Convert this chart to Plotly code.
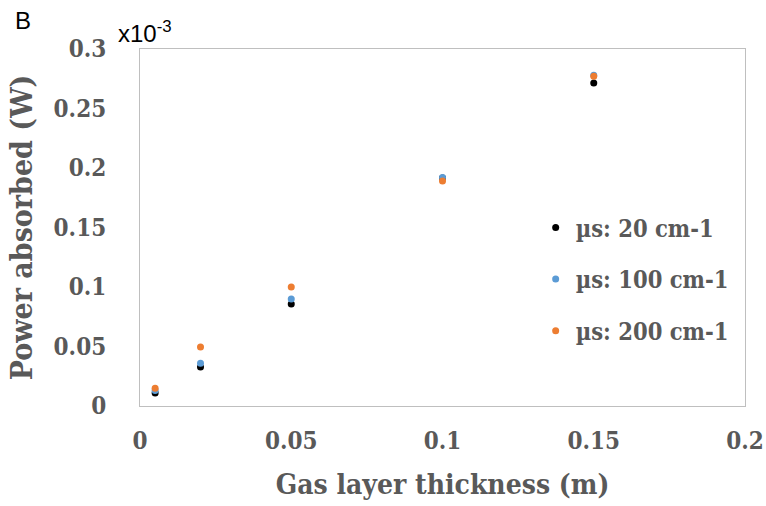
import plotly.graph_objects as go

# Gas layer thickness (m)
thickness = [0.005, 0.02, 0.05, 0.1, 0.15]

# Power absorbed (x10^-3 W) for each scattering coefficient
power_mus20 = [0.0109, 0.0328, 0.0857, 0.1916, 0.2714]
power_mus100 = [0.0130, 0.0360, 0.0900, 0.1920, 0.2780]
power_mus200 = [0.0150, 0.0496, 0.1000, 0.1890, 0.2770]

series_names = ["µs: 20 cm-1", "µs: 100 cm-1", "µs: 200 cm-1"]
series_colors = ["#000000", "#5B9BD5", "#ED7D31"]
series_values = [power_mus20, power_mus100, power_mus200]

y_ticks = [0, 0.05, 0.1, 0.15, 0.2, 0.25, 0.3]
x_ticks = [0, 0.05, 0.1, 0.15, 0.2]

SERIF = "DejaVu Serif Condensed"
GREY = "#595959"
TICK_FONT = dict(family=SERIF, size=24, color=GREY)

fig = go.Figure()
for i, (name, color, vals) in enumerate(zip(series_names, series_colors, series_values)):
    fig.add_trace(go.Scatter(
        x=thickness, y=vals, mode="markers", name=f"<b>{name}</b>",
        legendgroup=f"g{i}",
        marker=dict(color=color, size=7, line=dict(width=0)),
    ))

fig.update_layout(
    width=766, height=506,
    margin=dict(l=140, r=21, t=49, b=100),
    paper_bgcolor="white", plot_bgcolor="white",
    showlegend=True,
    legend=dict(
        x=0.654, y=0.355, xanchor="left", yanchor="middle",
        font=dict(family=SERIF, size=23.5, color=GREY),
        bgcolor="rgba(0,0,0,0)", tracegroupgap=18, itemwidth=30,
        traceorder="grouped",
    ),
    xaxis=dict(
        range=[0, 0.2], tickvals=x_ticks, ticktext=[f"<b>{v:g}</b>" for v in x_ticks],
        showgrid=False, zeroline=False, showline=True, mirror=True,
        linecolor="#BFBFBF", linewidth=1, ticks="", ticklen=0,
        tickfont=TICK_FONT, ticklabelstandoff=13, automargin=False,
        title=dict(text="<b>Gas layer thickness (m)</b>",
                   font=dict(family=SERIF, size=28, color=GREY), standoff=20),
    ),
    yaxis=dict(
        range=[0, 0.3], tickvals=y_ticks, ticktext=[f"<b>{v:g}</b>" for v in y_ticks],
        showgrid=False, zeroline=False, showline=True, mirror=True,
        linecolor="#BFBFBF", linewidth=1, ticks="", ticklen=0,
        tickfont=TICK_FONT, ticklabelstandoff=28, automargin=False,
        title=dict(text="<b>Power absorbed (W)</b>",
                   font=dict(family=SERIF, size=30, color=GREY), standoff=12),
    ),
)

# Panel letter and the axis multiplier
fig.add_annotation(
    text="B", xref="paper", yref="paper",
    x=-127 / 605, y=1 + 13 / 357, xanchor="left", yanchor="bottom",
    showarrow=False, font=dict(family="Liberation Sans", size=24, color="#000000"),
)
fig.add_annotation(
    text="x10<sup>-3</sup>", xref="paper", yref="paper",
    x=-24 / 605, y=1 + 0 / 357, xanchor="left", yanchor="bottom",
    showarrow=False, font=dict(family="Liberation Sans", size=24, color="#000000"),
)

fig.write_html("out.html")
